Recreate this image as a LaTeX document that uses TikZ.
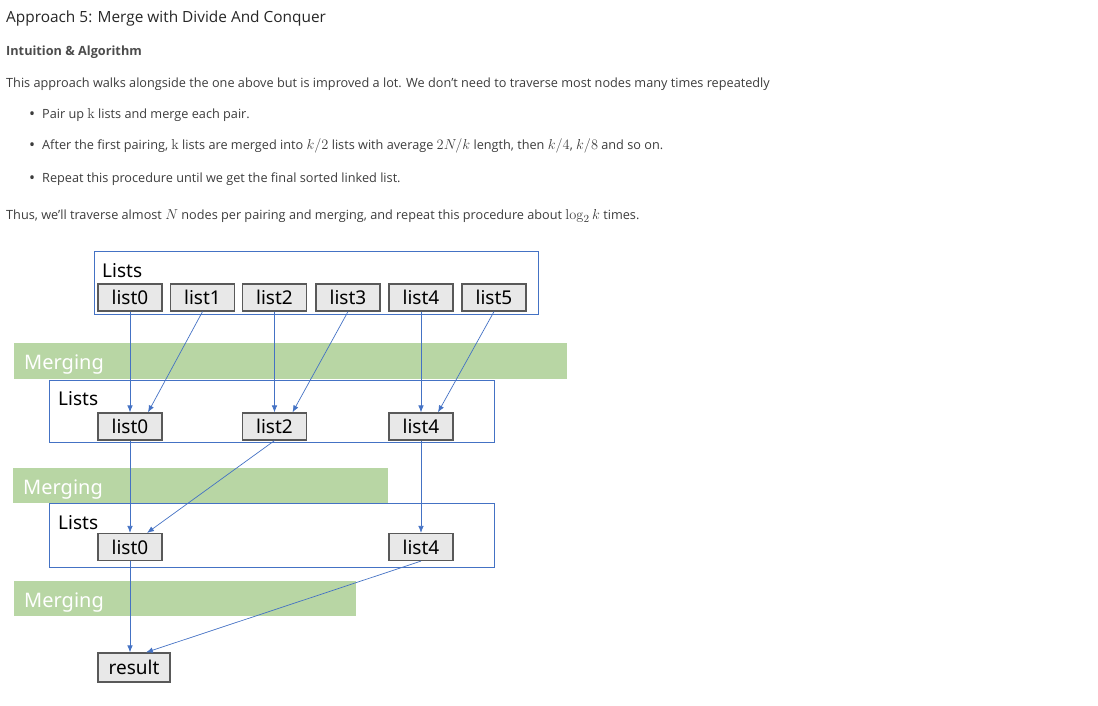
\documentclass[tikz,border=0pt]{standalone}
\usepackage[no-math]{fontspec}
\usepackage{graphicx}
\setmainfont{Open Sans}
\newfontfamily\diagfont{Noto Sans}
\usetikzlibrary{positioning,arrows.meta}

\definecolor{frameblue}{HTML}{4472C4}
\definecolor{mergegreen}{HTML}{B8D6A4}
\definecolor{boxgrey}{HTML}{E8E8E8}
\definecolor{boxline}{HTML}{595959}
\definecolor{textgrey}{HTML}{3C3C3C}

% math a bit larger than the text, as in the page
\newcommand{\mth}[1]{\scalebox{1.2}{$#1$}}

\tikzset{
  prose/.style={anchor=base west, inner sep=0pt, text=textgrey, font=\fontsize{12.7}{15}\selectfont},
  bulletdot/.style={anchor=base west, inner sep=0pt, text=textgrey, font=\fontsize{16}{16}\selectfont},
  listbox/.style={draw=boxline, line width=1.2pt, fill=boxgrey, minimum width=64pt,
    minimum height=27pt, inner sep=0pt, font=\diagfont\fontsize{19}{19}\selectfont},
  listsframe/.style={draw=frameblue, line width=0.8pt, inner sep=0pt, anchor=north west},
  listslabel/.style={anchor=base west, inner sep=0pt, font=\diagfont\fontsize{19}{19}\selectfont},
  mergebar/.style={fill=mergegreen, inner sep=0pt, anchor=north west},
  mergelabel/.style={anchor=base west, inner sep=0pt, text=white, font=\diagfont\fontsize{20}{20}\selectfont},
  flow/.style={->, draw=frameblue, line width=0.7pt}
}

\begin{document}
\begin{tikzpicture}[>={Latex[length=7pt,width=5.5pt]}, x=1pt, y=-1pt]
\useasboundingbox (0,0) rectangle (1098,705);

% Text above the picture
\node[prose, text=black!85, font=\fontsize{15.4}{18}\selectfont] (title) at (6,22) {Approach 5: Merge with Divide And Conquer};
\node[prose, text=black!70, font=\bfseries\fontsize{12.7}{15}\selectfont] (intuition) at (6,55) {Intuition \& Algorithm};
\node[prose] (intro) at (6,87) {This approach walks alongside the one above but is improved a lot. We don't need to traverse most nodes many times repeatedly};
\node[bulletdot] (dotA) at (29,119) {\textbullet};
\node[prose] (itemA) at (42,118) {Pair up \mth{\mathrm{k}} lists and merge each pair.};
\node[bulletdot] (dotB) at (29,150) {\textbullet};
\node[prose] (itemB) at (42,149) {After the first pairing, \mth{\mathrm{k}} lists are merged into \mth{k/2} lists with average \mth{2N/k} length, then \mth{k/4}, \mth{k/8} and so on.};
\node[bulletdot] (dotC) at (29,183) {\textbullet};
\node[prose] (itemC) at (42,182) {Repeat this procedure until we get the final sorted linked list.};
\node[prose] (thus) at (6,219) {Thus, we'll traverse almost \mth{N} nodes per pairing and merging, and repeat this procedure about \mth{\log_2 k} times.};

% Merging bars
\node[mergebar, minimum width=553pt, minimum height=36pt] (barA) at (14,343) {};
\node[mergelabel] (mergeA) at (24,369) {Merging};
\node[mergebar, minimum width=375pt, minimum height=35pt] (barB) at (13,468) {};
\node[mergelabel] (mergeB) at (23,494) {Merging};
\node[mergebar, minimum width=342pt, minimum height=35pt] (barC) at (14,581) {};
\node[mergelabel] (mergeC) at (24,607) {Merging};

% Frames "Lists"
\node[listsframe, minimum width=444pt, minimum height=63pt] (frameA) at (94,251) {};
\node[listslabel] (labelA) at (102,277) {Lists};
\node[listsframe, minimum width=445pt, minimum height=62pt] (frameB) at (49,380) {};
\node[listslabel] (labelB) at (58,405) {Lists};
\node[listsframe, minimum width=445pt, minimum height=64pt] (frameC) at (49,503) {};
\node[listslabel] (labelC) at (58,529) {Lists};

% first row
\foreach \i/\x in {0/130,1/202.5,2/274.5,3/348,4/421,5/494}
  \node[listbox] (top\i) at (\x,297.5) {list\i};

% second row
\node[listbox] (mid0) at (130,426.5) {list0};
\node[listbox] (mid2) at (274.5,426.5) {list2};
\node[listbox] (mid4) at (421,426.5) {list4};

% third row
\node[listbox] (low0) at (130,547) {list0};
\node[listbox] (low4) at (421,547) {list4};

% result
\node[listbox, minimum width=72pt, minimum height=29pt] (result) at (134,667.5) {result};

% Pfeile
\draw[flow] (top0.south) -- (mid0.north);
\draw[flow] (top1.south) -- ([xshift=18pt]mid0.north);
\draw[flow] (top2.south) -- (mid2.north);
\draw[flow] (top3.south) -- ([xshift=18pt]mid2.north);
\draw[flow] (top4.south) -- (mid4.north);
\draw[flow] (top5.south) -- ([xshift=17pt]mid4.north);
\draw[flow] (mid0.south) -- (low0.north);
\draw[flow] (mid2.south) -- ([xshift=17pt]low0.north);
\draw[flow] (mid4.south) -- (low4.north);
\draw[flow] (low0.south) -- ([xshift=-4pt]result.north);
\draw[flow] (low4.south) -- ([xshift=12pt]result.north);

\end{tikzpicture}
\end{document}
